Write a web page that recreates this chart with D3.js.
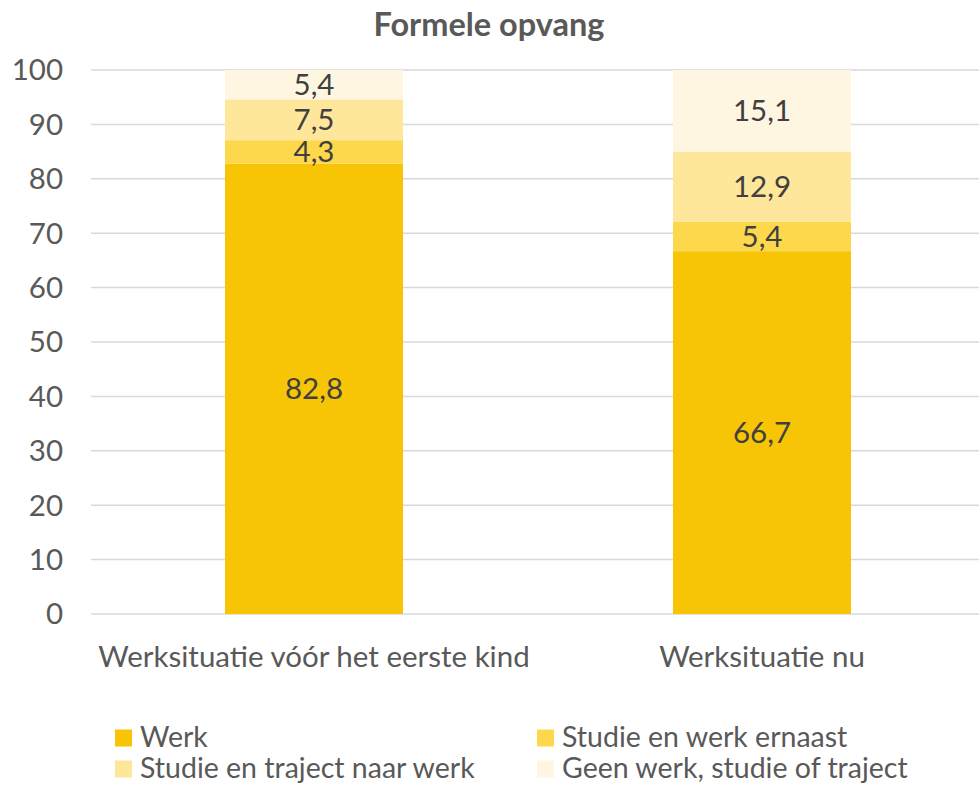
<!DOCTYPE html>
<html><head><meta charset="utf-8">
<script src="https://cdn.jsdelivr.net/npm/d3@7"></script>
<style>body{margin:0;background:#fff}svg{display:block}text{font-family:Lato,"Open Sans",sans-serif}</style>
</head><body>
<svg id="c" width="979" height="786"></svg>
<script>
const title = "Formele opvang";
const categories = ["Werksituatie vóór het eerste kind", "Werksituatie nu"];
const seriesNames = ["Werk", "Studie en werk ernaast", "Studie en traject naar werk", "Geen werk, studie of traject"];
const werk = [82.8, 66.7];
const studieWerk = [4.3, 5.4];
const studieTraject = [7.5, 12.9];
const geen = [5.4, 15.1];
const yTicks = [0, 10, 20, 30, 40, 50, 60, 70, 80, 90, 100];
const colors = ["#F7C505", "#FDD84D", "#FEE69B", "#FEF6E0"];

const FS = 29.5;
const svg = d3.select("#c");
const x = d3.scaleBand().domain(categories).range([90, 986]).padding(0);
const y = d3.scaleLinear().domain([0, 100]).range([614, 70]);
const barFrac = 178 / 448;
const bw = x.bandwidth() * barFrac;

// gridlines
svg.append("g").selectAll("line").data(yTicks).join("line")
  .attr("x1", 91).attr("x2", 979)
  .attr("y1", d => y(d)).attr("y2", d => y(d))
  .attr("stroke", "#D9D9D9").attr("stroke-width", 1.5);

// y tick labels
svg.append("g").selectAll("text").data(yTicks).join("text")
  .attr("x", 63).attr("y", d => y(d)).attr("dy", "0.35em")
  .attr("text-anchor", "end").attr("font-size", FS).attr("fill", "#595959")
  .text(d => d);

const seriesVals = [werk, studieWerk, studieTraject, geen];
const rows = categories.map((c, i) => {
  const o = {cat: c};
  seriesNames.forEach((s, j) => o[s] = seriesVals[j][i]);
  return o;
});
const stack = d3.stack().keys(seriesNames)(rows);

const fmt = v => String(v).replace(".", ",");
stack.forEach((layer, j) => {
  const g = svg.append("g");
  g.selectAll("rect").data(layer).join("rect")
    .attr("x", d => x(d.data.cat) + (x.bandwidth() - bw) / 2)
    .attr("width", bw)
    .attr("y", d => y(Math.min(d[1], 100)))
    .attr("height", d => y(d[0]) - y(Math.min(d[1], 100)))
    .attr("fill", colors[j]);
  g.selectAll("text").data(layer).join("text")
    .attr("x", d => x(d.data.cat) + x.bandwidth() / 2)
    .attr("y", d => (y(d[0]) + y(Math.min(d[1], 100))) / 2)
    .attr("dy", "0.35em").attr("text-anchor", "middle")
    .attr("font-size", FS).attr("fill", "#404040")
    .text(d => fmt(seriesVals[j][categories.indexOf(d.data.cat)]));
});

// category labels
svg.append("g").selectAll("text").data(categories).join("text")
  .attr("x", d => x(d) + x.bandwidth() / 2).attr("y", 657).attr("dy", "0.35em")
  .attr("text-anchor", "middle").attr("font-size", FS).attr("fill", "#595959")
  .text(d => d);

// title
svg.append("text").attr("x", 489).attr("y", 25).attr("dy", "0.35em")
  .attr("text-anchor", "middle").attr("font-size", 32.5).attr("font-weight", "bold")
  .attr("fill", "#595959").text(title);

// legend
const legPos = [[115, 738], [537, 738], [115, 769], [537, 769]];
const lg = svg.append("g").selectAll("g").data(seriesNames).join("g")
  .attr("transform", (d, i) => `translate(${legPos[i][0]},${legPos[i][1]})`);
lg.append("rect").attr("x", 0).attr("y", -8.5).attr("width", 17).attr("height", 17)
  .attr("fill", (d, i) => colors[i]);
lg.append("text").attr("x", 25).attr("y", 0).attr("dy", "0.33em")
  .attr("font-size", 28.5).attr("fill", "#595959").text(d => d);
</script>
</body></html>
